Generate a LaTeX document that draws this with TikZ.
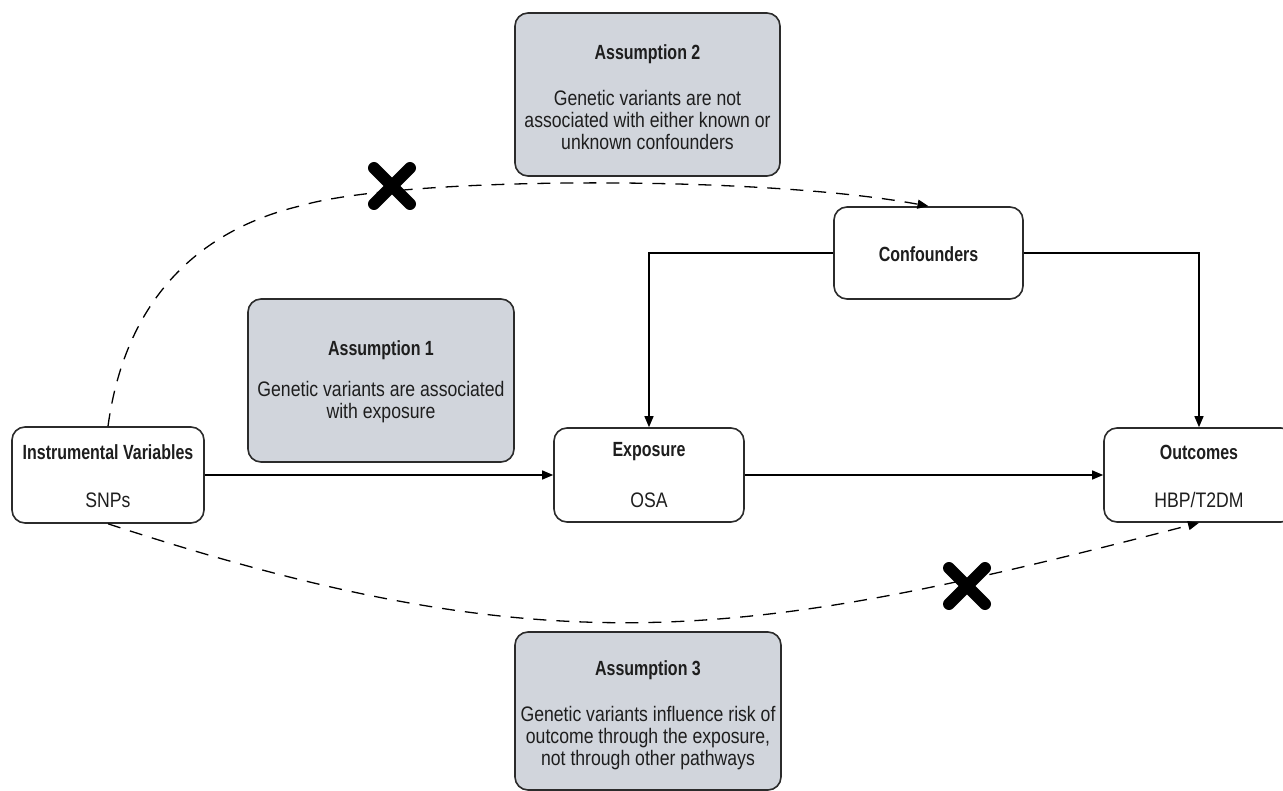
\documentclass[tikz,border=0pt]{standalone}
\usepackage{fontspec}
\setmainfont{Liberation Sans}[FakeStretch=0.84]
\newfontfamily\ttlfont{Liberation Sans Bold}[FakeStretch=0.78]
\usetikzlibrary{arrows.meta}
\definecolor{boxgray}{HTML}{D1D5DC}
\definecolor{edge}{HTML}{2B2B2B}
\definecolor{txt}{HTML}{1E1E1E}
\tikzset{
  box/.style={draw=edge, line width=1.6pt, rounded corners=13pt, fill=white},
  abox/.style={box, fill=boxgray},
  body/.style={font=\fontsize{21}{22}\selectfont, text=txt, align=center},
  ttl/.style={font=\fontsize{20.5}{22}\ttlfont, text=txt},
  conn/.style={draw=black, line width=1.3pt, -{Triangle[length=11pt,width=9pt]}},
  dconn/.style={conn, dash pattern=on 13pt off 10pt},
  cross/.style={line width=12pt, line cap=round, draw=black}
}
\begin{document}
\begin{tikzpicture}[x=1pt,y=-1pt]
\useasboundingbox (0,0) rectangle (1283,791);

% main boxes
\node[box, minimum width=192pt, minimum height=96pt] (iv) at (108,475) {};
\node[ttl] (ivt) at (108,452) {Instrumental Variables};
\node[body] (ivs) at (108,500) {SNPs};

\node[box, minimum width=190pt, minimum height=94pt] (exp) at (649,475) {};
\node[ttl] (expt) at (649,452) {Exposure};
\node[body] (exps) at (649,500) {OSA};

\node[box, minimum width=190pt, minimum height=94pt] (out) at (1199,475) {};
\node[ttl] (outt) at (1199,452) {Outcomes};
\node[body] (outs) at (1199,500) {HBP/T2DM};

\node[box, minimum width=189pt, minimum height=92pt] (conf) at (928.5,253) {};
\node[ttl] (conft) at (928.5,254) {Confounders};

% assumption boxes
\node[abox, minimum width=266pt, minimum height=163pt] (a1) at (381,380.5) {};
\node[ttl] (a1t) at (381,350) {Assumption 1};
\node[body] (a1s) at (381,402) {Genetic variants are associated\\with exposure};

\node[abox, minimum width=265pt, minimum height=163pt] (a2) at (647.5,94.5) {};
\node[ttl] (a2t) at (647.5,54) {Assumption 2};
\node[body] (a2s) at (647.5,120) {Genetic variants are not\\associated with either known or\\unknown confounders};

\node[abox, minimum width=266pt, minimum height=158pt] (a3) at (648,711) {};
\node[ttl] (a3t) at (648,670) {Assumption 3};
\node[body] (a3s) at (648,738) {Genetic variants influence risk of\\outcome through the exposure,\\not through other pathways};

% solid connectors
\draw[conn] (iv.east) -- (exp.west);
\draw[conn] (exp.east) -- (out.west);
\draw[conn] (conf.west) -| (exp.north);
\draw[conn] (conf.east) -| (out.north);

% dashed curves
\coordinate (tm) at (300,206);
\draw[dconn] (iv.north) .. controls (128,280) and (220,225) .. (tm)
   .. controls (400,176) and (760,175) .. (conf.north);
\draw[dconn] (iv.south) .. controls (557,671) and (750,639) .. (out.south);

% crosses
\coordinate (x1) at (392,186);
\coordinate (x2) at (967,586);
\draw[cross] ([shift={(-18,-18)}]x1) -- ([shift={(18,18)}]x1);
\draw[cross] ([shift={(-18,18)}]x1) -- ([shift={(18,-18)}]x1);
\draw[cross] ([shift={(-18,-18)}]x2) -- ([shift={(18,18)}]x2);
\draw[cross] ([shift={(-18,18)}]x2) -- ([shift={(18,-18)}]x2);
\end{tikzpicture}
\end{document}
